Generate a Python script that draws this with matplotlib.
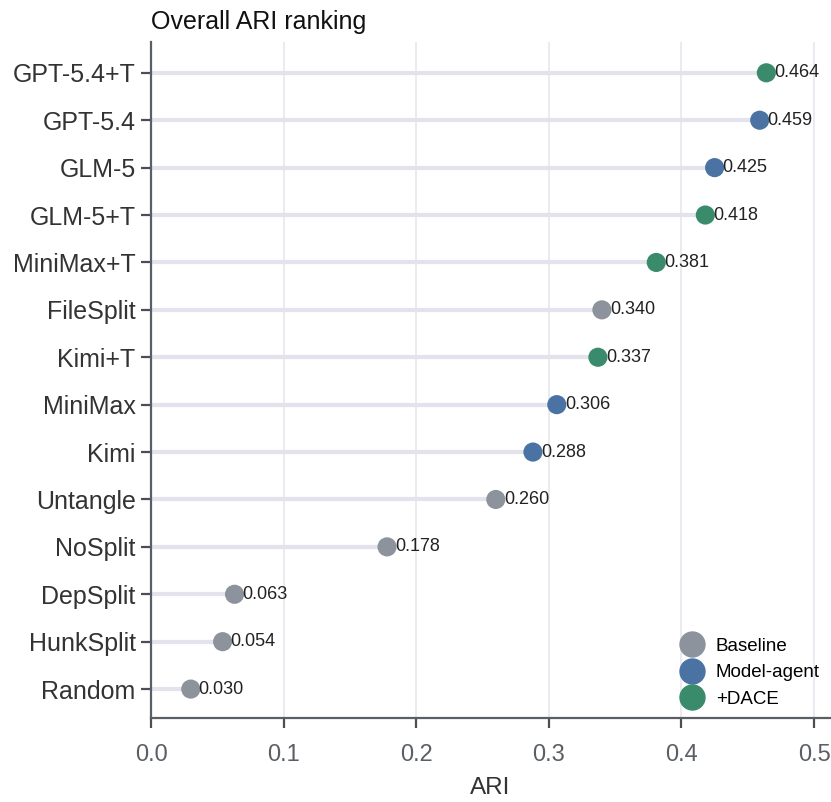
import matplotlib
matplotlib.use("Agg")
import matplotlib.pyplot as plt
from matplotlib.lines import Line2D

plt.rcParams['font.family'] = ['Liberation Sans', 'DejaVu Sans']

methods = ["GPT-5.4+T", "GPT-5.4", "GLM-5", "GLM-5+T", "MiniMax+T", "FileSplit",
           "Kimi+T", "MiniMax", "Kimi", "Untangle", "NoSplit", "DepSplit",
           "HunkSplit", "Random"]
ari = [0.464, 0.459, 0.425, 0.418, 0.381, 0.340, 0.337, 0.306, 0.288, 0.260,
       0.178, 0.063, 0.054, 0.030]
groups = ["+DACE", "Model-agent", "Model-agent", "+DACE", "+DACE", "Baseline",
          "+DACE", "Model-agent", "Model-agent", "Baseline", "Baseline", "Baseline",
          "Baseline", "Baseline"]
group_order = ["Baseline", "Model-agent", "+DACE"]
colors = {"Baseline": "#8D939C", "Model-agent": "#4A72A3", "+DACE": "#3A8B6C"}

fig = plt.figure(figsize=(8.31, 8.02), dpi=100)
ax = fig.add_axes([151/831, 1-718/802, (830-151)/831, (718-42)/802])

n = len(methods)
ypos = list(range(n - 1, -1, -1))

ax.hlines(ypos, 0, ari, color="#E2E3EC", lw=3, zorder=1)
ax.scatter(ari, ypos, s=190, c=[colors[g] for g in groups], zorder=3, linewidths=0)
for v, y in zip(ari, ypos):
    ax.text(v + 0.006, y, f"{v:.3f}", va="center", ha="left", fontsize=13,
            color="#222222", zorder=4)

ax.set_yticks(ypos)
ax.set_yticklabels(methods, fontsize=18, color="#333333")
ax.set_xlim(0, 0.512)
ax.set_ylim(-0.61, n - 1 + 0.65)
ax.set_xticks([0.0, 0.1, 0.2, 0.3, 0.4, 0.5])
ax.set_xticklabels(["0.0", "0.1", "0.2", "0.3", "0.4", "0.5"], fontsize=17, color="#5A5F66")
ax.set_xlabel("ARI", fontsize=17.5, color="#333333", labelpad=8)

ax.grid(axis="x", color="#E6E7EE", lw=1.2, zorder=0)
ax.set_axisbelow(True)
for s in ["top", "right"]:
    ax.spines[s].set_visible(False)
for s in ["left", "bottom"]:
    ax.spines[s].set_color("#5A5F66")
    ax.spines[s].set_linewidth(1.6)
ax.tick_params(axis="both", color="#4A4F56", width=1.6, length=7)
ax.tick_params(axis="x", pad=12)
ax.tick_params(axis="y", pad=4)

ax.set_title("Overall ARI ranking", loc="left", fontsize=18, color="#111111", pad=9)

handles = [Line2D([0], [0], marker="o", ls="", color=colors[g], markersize=18, label=g)
           for g in group_order]
leg = ax.legend(handles=handles, loc="lower right", frameon=False, fontsize=13.5,
                handletextpad=0.25, labelspacing=0.5, borderaxespad=0.15,
                bbox_to_anchor=(1.0, 0.0))

fig.savefig("out.png", dpi=100)
